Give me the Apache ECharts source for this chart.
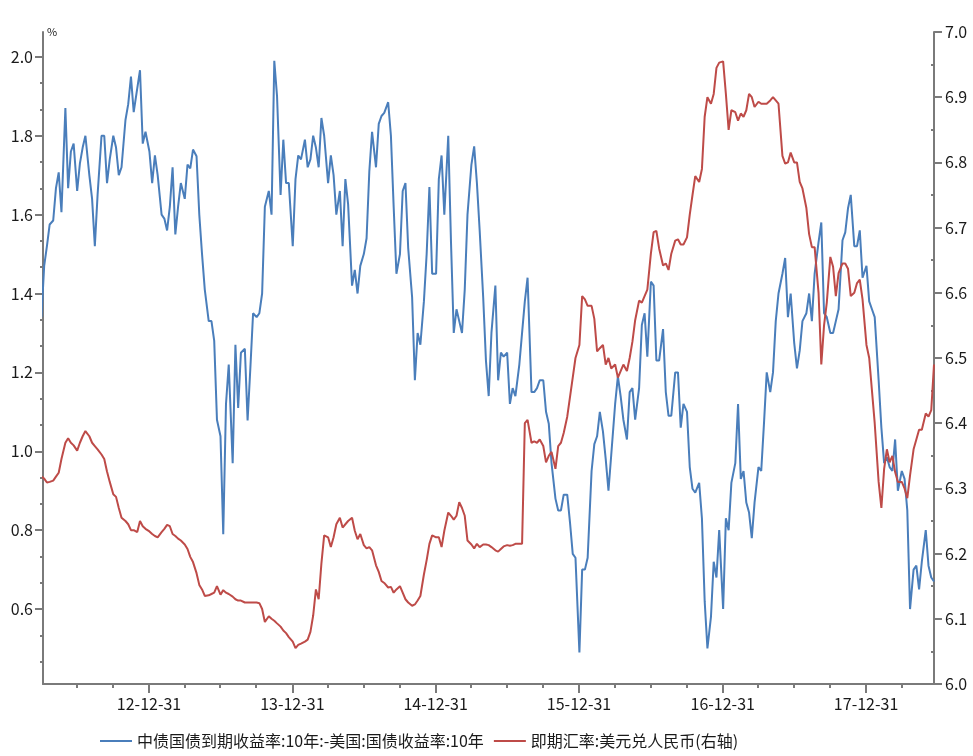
<!DOCTYPE html>
<html><head><meta charset="utf-8">
<script src="https://cdn.jsdelivr.net/npm/echarts@6/dist/echarts.min.js"></script>
<style>html,body{margin:0;padding:0;background:#fff}#c{width:973px;height:756px}</style>
</head><body><div id="c"></div>
<script>
// sampling grid: 4 readings per month (days 1, 8, 15, 22), 2012-04 .. 2018-06
const firstYear = 2012, firstMonth = 4, lastYear = 2018, lastMonth = 6;
const sampleDays = [1, 8, 15, 22];

// 中债国债到期收益率:10年 - 美国:国债收益率:10年 (%), left axis
const cnUsSpread = [
  1.34,1.47,1.52,1.575, 1.585,1.667,1.707,1.606, 1.87,1.667,1.76,1.78, 1.66,1.73,1.77,1.80,
  1.70,1.64,1.52,1.65, 1.80,1.80,1.68,1.74, 1.80,1.77,1.70,1.72, 1.84,1.88,1.95,1.86,
  1.92,1.966,1.78,1.81,
  1.76,1.68,1.75,1.70, 1.60,1.59,1.56,1.62, 1.72,1.55,1.62,1.68, 1.64,1.727,1.717,1.765,
  1.748,1.60,1.50,1.41, 1.33,1.33,1.28,1.08, 1.038,0.79,1.12,1.22, 0.97,1.27,1.11,1.25,
  1.26,1.078,1.21,1.35, 1.34,1.35,1.40,1.62, 1.66,1.60,1.99,1.90, 1.65,1.79,1.68,1.68,
  1.52,1.69,1.75,1.74, 1.79,1.72,1.74,1.80, 1.77,1.72,1.845,1.80, 1.68,1.75,1.70,1.60,
  1.66,1.52,1.69,1.626, 1.42,1.46,1.40,1.47, 1.50,1.54,1.71,1.81, 1.72,1.83,1.85,1.858,
  1.885,1.80,1.62,1.45, 1.50,1.66,1.68,1.515, 1.39,1.18,1.30,1.27, 1.38,1.50,1.67,1.45,
  1.45,1.69,1.75,1.60, 1.80,1.53,1.30,1.36, 1.33,1.30,1.41,1.60, 1.727,1.773,1.68,1.56,
  1.39,1.23,1.14,1.30, 1.42,1.18,1.25,1.24, 1.25,1.12,1.16,1.14, 1.22,1.30,1.38,1.44,
  1.15,1.15,1.16,1.18, 1.18,1.10,1.07,0.97, 0.88,0.85,0.85,0.89, 0.89,0.82,0.74,0.73,
  0.49,0.70,0.70,0.73, 0.95,1.018,1.038,1.10, 1.05,0.98,0.90,0.99, 1.12,1.19,1.14,1.08,
  1.03,1.15,1.16,1.08, 1.16,1.32,1.35,1.24, 1.43,1.42,1.23,1.23, 1.31,1.15,1.09,1.09,
  1.20,1.20,1.06,1.12, 1.10,0.96,0.905,0.895, 0.92,0.83,0.62,0.50, 0.58,0.72,0.68,0.80,
  0.60,0.83,0.80,0.92, 0.97,1.12,0.93,0.95, 0.87,0.845,0.78,0.87, 0.96,0.95,1.07,1.20,
  1.15,1.20,1.33,1.40, 1.45,1.49,1.34,1.40, 1.275,1.21,1.255,1.33, 1.35,1.40,1.33,1.45,
  1.53,1.58,1.35,1.34, 1.30,1.30,1.33,1.36, 1.535,1.555,1.616,1.65, 1.52,1.52,1.56,1.44,
  1.47,1.38,1.36,1.34, 1.18,1.06,0.97,0.985, 0.96,0.95,1.03,0.90, 0.95,0.93,0.85,0.60,
  0.70,0.71,0.65,0.72, 0.80,0.71,0.68,0.67
];

// 即期汇率:美元兑人民币, right axis
const usdCny = [
  6.318,6.315,6.309,6.31, 6.312,6.318,6.324,6.345, 6.37,6.377,6.37,6.366, 6.358,6.37,6.38,6.388,
  6.38,6.37,6.365,6.36, 6.352,6.345,6.326,6.31, 6.291,6.287,6.27,6.255, 6.25,6.245,6.236,6.236,
  6.233,6.25,6.242,6.238,
  6.234,6.23,6.227,6.225, 6.233,6.238,6.244,6.242, 6.23,6.227,6.223,6.22, 6.214,6.207,6.195,6.187,
  6.17,6.152,6.145,6.135, 6.136,6.138,6.14,6.15, 6.137,6.144,6.14,6.138, 6.134,6.13,6.128,6.128,
  6.125,6.125,6.125,6.125, 6.125,6.124,6.115,6.095, 6.104,6.10,6.097,6.093, 6.088,6.082,6.078,6.072,
  6.065,6.055,6.06,6.062, 6.065,6.068,6.08,6.105, 6.145,6.13,6.185,6.228, 6.225,6.21,6.225,6.245,
  6.255,6.24,6.245,6.25, 6.255,6.235,6.222,6.23, 6.213,6.208,6.21,6.205, 6.182,6.172,6.158,6.155,
  6.148,6.149,6.14,6.145, 6.15,6.14,6.13,6.125, 6.12,6.122,6.128,6.135, 6.168,6.19,6.215,6.228,
  6.225,6.225,6.21,6.235, 6.263,6.258,6.252,6.258, 6.279,6.27,6.258,6.22, 6.214,6.208,6.215,6.21,
  6.214,6.214,6.213,6.21, 6.205,6.203,6.207,6.211, 6.213,6.212,6.213,6.215, 6.215,6.215,6.40,6.405,
  6.37,6.372,6.37,6.375, 6.365,6.34,6.35,6.356, 6.33,6.365,6.37,6.385, 6.41,6.44,6.47,6.50,
  6.52,6.595,6.59,6.58, 6.58,6.56,6.51,6.515, 6.52,6.49,6.50,6.484, 6.49,6.47,6.48,6.49,
  6.48,6.50,6.525,6.558, 6.588,6.585,6.595,6.605, 6.66,6.693,6.695,6.668, 6.642,6.645,6.635,6.66,
  6.68,6.682,6.674,6.674, 6.685,6.72,6.75,6.779, 6.77,6.79,6.87,6.90, 6.89,6.905,6.945,6.953,
  6.955,6.905,6.85,6.88, 6.877,6.864,6.875,6.87, 6.88,6.905,6.90,6.885, 6.893,6.89,6.89,6.89,
  6.895,6.90,6.895,6.89, 6.81,6.798,6.80,6.815, 6.80,6.80,6.77,6.76, 6.73,6.69,6.67,6.67,
  6.60,6.49,6.55,6.585, 6.655,6.64,6.595,6.63, 6.645,6.645,6.637,6.595, 6.60,6.615,6.62,6.59,
  6.52,6.50,6.45,6.40, 6.31,6.27,6.33,6.36, 6.34,6.35,6.325,6.31, 6.31,6.30,6.285,6.32,
  6.36,6.375,6.39,6.39, 6.415,6.41,6.42,6.49
];

const seriesNames = ['中债国债到期收益率:10年:-美国:国债收益率:10年', '即期汇率:美元兑人民币(右轴)'];
const xStart = '2012-04-05', xEnd = '2018-06-22';
const xMajorTicks = ['2012-12-31','2013-12-31','2014-12-31','2015-12-31','2016-12-31','2017-12-31'];
const xMinorTicks = ['2012-06-30','2012-09-30','2013-03-31','2013-06-30','2013-09-30','2014-03-31','2014-06-30','2014-09-30',
  '2015-03-31','2015-06-30','2015-09-30','2016-03-31','2016-06-30','2016-09-30','2017-03-31','2017-06-30','2017-09-30','2018-03-31'];
const leftMin = 0.41, leftMax = 2.063;
const leftLabels = [0.6,0.8,1.0,1.2,1.4,1.6,1.8,2.0];
const leftMinor = [0.4667,0.5333,0.6667,0.7333,0.8667,0.9333,1.0667,1.1333,1.2667,1.3333,1.4667,1.5333,1.6667,1.7333,1.8667,1.9333];
const rightMin = 6.0, rightMax = 7.0, rightStep = 0.1;
const rightMinor = [6.05,6.15,6.25,6.35,6.45,6.55,6.65,6.75,6.85,6.95];

function utc(s){ const p = s.split('-').map(Number); return Date.UTC(p[0], p[1]-1, p[2]); }
const dates = [];
for (let y = firstYear, m = firstMonth; y < lastYear || (y === lastYear && m <= lastMonth); ) {
  sampleDays.forEach(d => dates.push(Date.UTC(y, m-1, d)));
  m++; if (m > 12) { m = 1; y++; }
}
function pad(n){ return n < 10 ? '0'+n : ''+n; }
function fmtDate(v){ const d = new Date(v); return String(d.getUTCFullYear()).slice(2)+'-'+pad(d.getUTCMonth()+1)+'-'+pad(d.getUTCDate()); }

const FONT = 'Noto Sans CJK SC';
const AX = '#7a7a7a';
const TXT = '#1a1a1a';
const chart = echarts.init(document.getElementById('c'));
chart.setOption({
  animation: false,
  backgroundColor: '#fff',
  grid: { left: 43, right: 39, top: 32, bottom: 72, outerBoundsMode: 'none' },
  legend: {
    left: 95, top: 728, icon: 'rect', itemWidth: 32, itemHeight: 2, itemGap: 10,
    textStyle: { fontFamily: FONT, fontSize: 16, color: TXT },
    data: seriesNames
  },
  xAxis: [{
    type: 'value', min: utc(xStart), max: utc(xEnd),
    axisLine: { show: true, lineStyle: { color: AX, width: 2 } },
    axisTick: { show: true, customValues: xMajorTicks.map(utc), length: 9, lineStyle: { color: AX, width: 2 } },
    axisLabel: { customValues: xMajorTicks.map(utc), formatter: fmtDate, margin: 12, fontFamily: FONT, fontSize: 16, color: TXT },
    splitLine: { show: false }
  }, {
    type: 'value', min: utc(xStart), max: utc(xEnd), position: 'bottom',
    axisLine: { show: false },
    axisTick: { show: true, customValues: xMinorTicks.map(utc), length: 4, lineStyle: { color: AX, width: 2 } },
    axisLabel: { show: false }, splitLine: { show: false }
  }],
  yAxis: [{
    type: 'value', min: leftMin, max: leftMax, position: 'left',
    name: '%', nameLocation: 'end', nameGap: 0,
    nameTextStyle: { fontFamily: FONT, fontSize: 11, color: TXT, align: 'left', verticalAlign: 'middle', padding: [0,0,4,4] },
    axisLine: { show: true, lineStyle: { color: AX, width: 2 } },
    axisTick: { show: true, customValues: leftLabels, length: 8, lineStyle: { color: AX, width: 2 } },
    axisLabel: { customValues: leftLabels, formatter: v => v.toFixed(1), margin: 10, fontFamily: FONT, fontSize: 16, color: TXT },
    splitLine: { show: false }
  }, {
    type: 'value', min: rightMin, max: rightMax, interval: rightStep, position: 'right',
    axisLine: { show: true, lineStyle: { color: AX, width: 2 } },
    axisTick: { show: true, length: 8, lineStyle: { color: AX, width: 2 } },
    axisLabel: { formatter: v => v.toFixed(1), margin: 11, fontFamily: FONT, fontSize: 16, color: TXT },
    splitLine: { show: false }
  }, {
    type: 'value', min: leftMin, max: leftMax, position: 'left',
    axisLine: { show: false },
    axisTick: { show: true, customValues: leftMinor, length: 3, lineStyle: { color: AX, width: 2 } },
    axisLabel: { show: false }, splitLine: { show: false }
  }, {
    type: 'value', min: rightMin, max: rightMax, position: 'right',
    axisLine: { show: false },
    axisTick: { show: true, inside: true, customValues: rightMinor, length: 3, lineStyle: { color: AX, width: 2 } },
    axisLabel: { show: false }, splitLine: { show: false }
  }],
  series: [{
    name: seriesNames[0], type: 'line', xAxisIndex: 0, yAxisIndex: 0,
    symbol: 'none', showSymbol: false, clip: true,
    lineStyle: { color: '#4a7ebb', width: 2 }, itemStyle: { color: '#4a7ebb' },
    data: dates.map((t, i) => [t, cnUsSpread[i]])
  }, {
    name: seriesNames[1], type: 'line', xAxisIndex: 0, yAxisIndex: 1,
    symbol: 'none', showSymbol: false, clip: true,
    lineStyle: { color: '#be4b48', width: 2 }, itemStyle: { color: '#be4b48' },
    data: dates.map((t, i) => [t, usdCny[i]])
  }]
});
</script>
</body></html>
